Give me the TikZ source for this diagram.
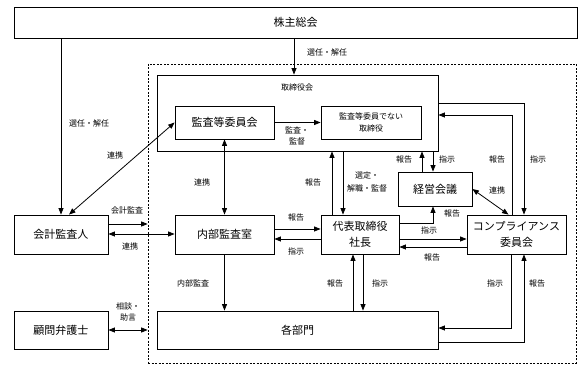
\documentclass[tikz,border=0pt]{standalone}
\usepackage{fontspec}
\setmainfont{Noto Sans CJK JP}
\usetikzlibrary{arrows.meta}
\tikzset{
  box/.style={draw, line width=0.8pt, inner sep=0pt, align=center, font=\fontsize{11}{14}\selectfont},
  lbl/.style={inner sep=0pt, align=center, font=\fontsize{8}{11}\selectfont},
  conn/.style={line width=0.8pt, -{Triangle[length=6.5pt,width=5pt]}},
  dconn/.style={line width=0.8pt, {Triangle[length=6.5pt,width=5pt]}-{Triangle[length=6.5pt,width=5pt]}},
  dashbox/.style={draw, line width=0.7pt, dash pattern=on 2pt off 1.5pt, inner sep=0pt}
}
\begin{document}
\begin{tikzpicture}[x=1pt,y=-1pt]
\useasboundingbox[fill=white] (0,0) rectangle (587,374);
% dashed company box
\node[dashbox, minimum width=428pt, minimum height=299pt] (dbox) at (362,213.5) {};
% boxes
\node[box, minimum width=563pt, minimum height=31pt] (sh) at (295.5,22.5) {株主総会};
\node[box, minimum width=281pt, minimum height=76pt] (board) at (297.5,113) {};
\node[lbl] (boardlbl) at (297,87) {取締役会};
\node[box, minimum width=99pt, minimum height=33pt] (aud) at (224.5,122.5) {監査等委員会};
\node[box, minimum width=100pt, minimum height=33pt, font=\fontsize{8}{12}\selectfont] (nonaud) at (371,122.5) {監査等委員でない\\取締役};
\node[box, minimum width=94pt, minimum height=39pt] (ext) at (61,234.5) {会計監査人};
\node[box, minimum width=99pt, minimum height=39pt] (ia) at (224.5,234.5) {内部監査室};
\node[box, minimum width=78pt, minimum height=39pt, font=\fontsize{11}{16}\selectfont] (ceo) at (360,234.5) {代表取締役\\社長};
\node[box, minimum width=74pt, minimum height=34pt] (mgmt) at (435,189) {経営会議};
\node[box, minimum width=99pt, minimum height=39pt, font=\fontsize{11}{16}\selectfont] (comp) at (516.5,234.5) {コンプライアンス\\委員会};
\node[box, minimum width=281pt, minimum height=38pt] (dept) at (297.5,330) {各部門};
\node[box, minimum width=94pt, minimum height=38pt] (law) at (61,330) {顧問弁護士};

% shareholders
\draw[conn] (sh.south -| ext.north) -- (ext.north);
\node[lbl] at (89,123) {選任・解任};
\draw[conn] (sh.south -| 294,0) -- (board.north -| 294,0);
\node[lbl] at (327,52) {選任・解任};

% audit committee
\draw[conn] (aud.east) -- (nonaud.west);
\node[lbl] at (297,136) {監査・\\監督};
\draw[dconn] ([xshift=8pt]ext.north) -- (aud.west);
\node[lbl] at (115,155) {連携};
\draw[dconn] (aud.south) -- (ia.north);
\node[lbl] at (202,182) {連携};

% board <-> ceo
\draw[conn] (ceo.north -| 332,0) -- (board.south -| 332,0);
\node[lbl] at (313,182) {報告};
\draw[conn] (board.south -| 343,0) -- (ceo.north -| 343,0);
\node[lbl, font=\fontsize{8}{13}\selectfont] at (367,181.5) {選定・\\解職・監督};

% board <-> mgmt
\draw[conn] (mgmt.north -| 422,0) -- (board.south -| 422,0);
\node[lbl] at (404,159) {報告};
\draw[conn] (board.south -| 433,0) -- (mgmt.north -| 433,0);
\node[lbl] at (447,159) {指示};

% board <-> compliance
\draw[conn] (comp.north -| 512,0) |- (board.east |- 0,115);
\node[lbl] at (497,159) {報告};
\draw[conn] (board.east |- 0,103) -| (comp.north -| 524,0);
\node[lbl] at (538,159) {指示};

% mgmt <-> compliance
\draw[dconn] (mgmt.east) -- ([xshift=-8pt]comp.north);
\node[lbl] at (497,190) {連携};

% ceo -> mgmt
\draw[conn] (ceo.east |- 0,223) -| (mgmt.south -| 433,0);
\node[lbl] at (452,213) {報告};

% ceo <-> compliance
\draw[conn] (ceo.east |- 0,239) -- (comp.west |- 0,239);
\node[lbl] at (429,230) {指示};
\draw[conn] (comp.west |- 0,247) -- (ceo.east |- 0,247);
\node[lbl] at (432,257) {報告};

% ia <-> ceo
\draw[conn] (ia.east |- 0,229) -- (ceo.west |- 0,229);
\node[lbl] at (296,217) {報告};
\draw[conn] (ceo.west |- 0,239) -- (ia.east |- 0,239);
\node[lbl] at (296,251) {指示};

% external auditor
\draw[conn] (ext.east |- 0,224) -- (dbox.west |- 0,224);
\node[lbl] at (127,210) {会計監査};
\draw[dconn] (ext.east |- 0,234) -- (ia.west |- 0,234);
\node[lbl] at (130,246) {連携};

% internal audit -> departments
\draw[conn] (ia.south) -- (dept.north -| ia.south);
\node[lbl] at (193,283) {内部監査};

% ceo <-> departments
\draw[conn] (dept.north -| 353,0) -- (ceo.south -| 353,0);
\node[lbl] at (335,283) {報告};
\draw[conn] (ceo.south -| 363,0) -- (dept.north -| 363,0);
\node[lbl] at (380,283) {指示};

% compliance <-> departments
\draw[conn] (comp.south -| 511,0) |- (dept.east |- 0,328);
\node[lbl] at (495,283) {指示};
\draw[conn] (dept.east |- 0,342) -| (comp.south -| 524,0);
\node[lbl] at (537,283) {報告};

% lawyer
\draw[dconn] (law.east) -- (dbox.west |- law.east);
\node[lbl] at (128,312) {相談・\\助言};
\end{tikzpicture}
\end{document}
